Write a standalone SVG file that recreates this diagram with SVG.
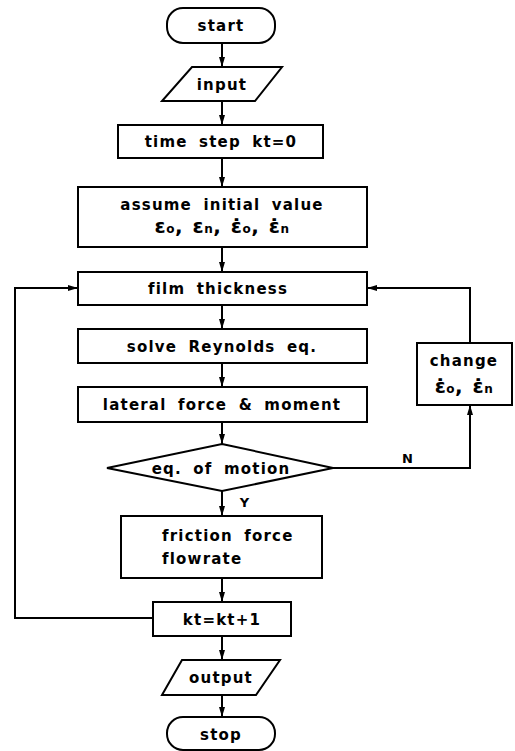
<svg xmlns="http://www.w3.org/2000/svg" width="515" height="751" viewBox="0 0 515 751">
<defs>
<marker id="ah" viewBox="0 0 10 10" refX="10" refY="5" markerWidth="10" markerHeight="10" markerUnits="userSpaceOnUse" orient="auto"><path d="M0,2 L10,5 L0,8 Z" fill="#000"/></marker>
</defs>
<style>
.s{fill:#fff;stroke:#000;stroke-width:2}
.t{font-family:"DejaVu Sans","Liberation Sans",sans-serif;font-weight:bold;font-size:15px;fill:#000;text-anchor:middle;letter-spacing:1.2px;word-spacing:5px}
.l{fill:none;stroke:#000;stroke-width:2}
.eps{font-size:20px;letter-spacing:0.5px;word-spacing:2px}
.sub{font-size:12px}
</style>
<rect width="515" height="751" fill="#fff"/>
<g id="connectors">
<line class="l" x1="222" y1="43" x2="222" y2="67" marker-end="url(#ah)"/>
<line class="l" x1="222" y1="101" x2="222" y2="125" marker-end="url(#ah)"/>
<line class="l" x1="222" y1="158" x2="222" y2="187" marker-end="url(#ah)"/>
<line class="l" x1="222" y1="247" x2="222" y2="272" marker-end="url(#ah)"/>
<line class="l" x1="222" y1="305" x2="222" y2="329" marker-end="url(#ah)"/>
<line class="l" x1="222" y1="363" x2="222" y2="387" marker-end="url(#ah)"/>
<line class="l" x1="222" y1="422" x2="222" y2="444" marker-end="url(#ah)"/>
<line class="l" x1="222" y1="491" x2="222" y2="516" marker-end="url(#ah)"/>
<line class="l" x1="222" y1="578" x2="222" y2="602" marker-end="url(#ah)"/>
<line class="l" x1="222" y1="636" x2="222" y2="660" marker-end="url(#ah)"/>
<line class="l" x1="222" y1="695" x2="222" y2="717" marker-end="url(#ah)"/>
<polyline class="l" points="333,468 470,468 470,405" marker-end="url(#ah)"/>
<polyline class="l" points="470,343 470,288 367,288" marker-end="url(#ah)"/>
<polyline class="l" points="153,618 15,618 15,288 78,288" marker-end="url(#ah)"/>
<text class="t" x="408" y="463" style="font-size:13px">N</text>
<text class="t" x="245" y="507" style="font-size:13px">Y</text>
</g>
<g id="start"><rect class="s" x="167" y="8" width="108" height="35" rx="16"/><text class="t" x="221" y="31">start</text></g>
<g id="input"><polygon class="s" points="192,67 282,67 255,101 162,101"/><text class="t" x="222" y="90">input</text></g>
<g id="timestep"><rect class="s" x="118" y="125" width="205" height="33"/><text class="t" x="221" y="147">time step kt=0</text></g>
<g id="assume"><rect class="s" x="78" y="187" width="289" height="60"/><text class="t" x="222" y="210">assume initial value</text><text class="t eps" x="222" y="233">ε<tspan class="sub">o</tspan>, ε<tspan class="sub">n</tspan>, ε̇<tspan class="sub">o</tspan>, ε̇<tspan class="sub">n</tspan></text></g>
<g id="film"><rect class="s" x="78" y="272" width="289" height="33"/><text class="t" x="218" y="294">film thickness</text></g>
<g id="reynolds"><rect class="s" x="78" y="329" width="289" height="34"/><text class="t" x="222" y="352">solve Reynolds eq.</text></g>
<g id="lateral"><rect class="s" x="78" y="387" width="289" height="35"/><text class="t" x="222" y="410">lateral force &amp; moment</text></g>
<g id="motion"><polygon class="s" points="222,444 333,468 222,491 107,468"/><text class="t" x="221" y="474">eq. of motion</text></g>
<g id="change"><rect class="s" x="417" y="343" width="95" height="62"/><text class="t" x="464" y="366">change</text><text class="t eps" x="464" y="393">ε̇<tspan class="sub">o</tspan>, ε̇<tspan class="sub">n</tspan></text></g>
<g id="friction"><rect class="s" x="121" y="516" width="201" height="62"/><text class="t" x="162" y="541" style="text-anchor:start">friction force</text><text class="t" x="162" y="564" style="text-anchor:start">flowrate</text></g>
<g id="ktinc"><rect class="s" x="153" y="602" width="138" height="34"/><text class="t" x="222" y="625">kt=kt+1</text></g>
<g id="output"><polygon class="s" points="182,660 280,660 256,695 162,695"/><text class="t" x="221" y="683">output</text></g>
<g id="stop"><rect class="s" x="167" y="717" width="108" height="33" rx="16"/><text class="t" x="221" y="740">stop</text></g>
</svg>
